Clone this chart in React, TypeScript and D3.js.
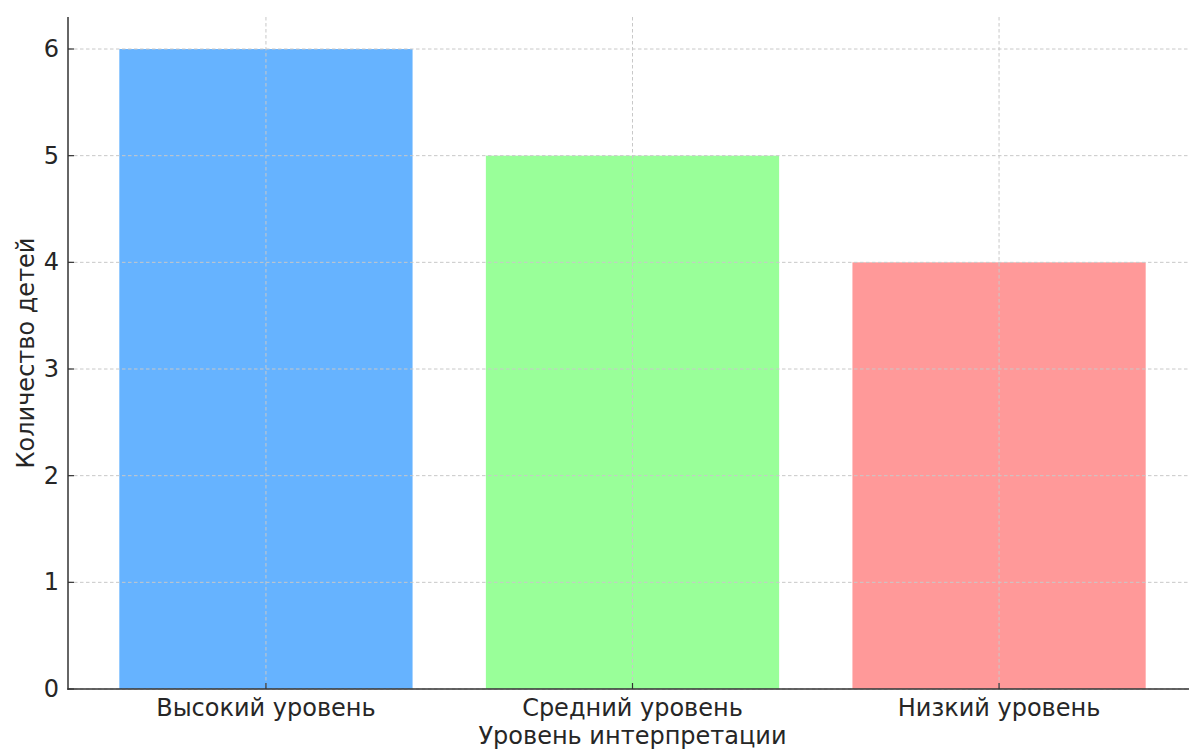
import React from "react";
import * as d3 from "d3";

const categories: string[] = ["Высокий уровень", "Средний уровень", "Низкий уровень"];
const counts: number[] = [6, 5, 4];
const barColors: string[] = ["#66b3ff", "#99ff99", "#ff9999"];
const yTicks: number[] = [0, 1, 2, 3, 4, 5, 6];
const xTitle = "Уровень интерпретации";
const yTitle = "Количество детей";

const W = 1189;
const H = 751;
const FONT = "'DejaVu Sans', sans-serif";
const FS = 24;

export default function App() {
  const idx = categories.map((_, i) => i);
  const x = d3.scaleLinear().domain([-0.54, 2.54]).range([68, 1197]);
  const y = d3.scaleLinear().domain([0, 6.3]).range([689, 17]);
  const barW = x(0.8) - x(0);
  const left = x(-0.54);
  const bottom = y(0);
  const top = y(6.3);

  return (
    <svg
      width={W}
      height={H}
      style={{ position: "absolute", left: 0, top: 0, background: "#fff" }}
      fontFamily={FONT}
    >
      {/* bars */}
      {idx.map((i) => (
        <rect
          key={"b" + i}
          x={x(i) - barW / 2}
          y={y(counts[i])}
          width={barW}
          height={bottom - y(counts[i])}
          fill={barColors[i]}
        />
      ))}

      {/* grid (drawn above bars) */}
      {yTicks.map((t) => (
        <line
          key={"gy" + t}
          x1={left}
          x2={W}
          y1={y(t)}
          y2={y(t)}
          stroke="#c8c8c8"
          strokeWidth={1}
          strokeDasharray="3.5,2.5"
        />
      ))}
      {idx.map((i) => (
        <line
          key={"gx" + i}
          x1={x(i)}
          x2={x(i)}
          y1={top}
          y2={bottom}
          stroke="#c8c8c8"
          strokeWidth={1}
          strokeDasharray="3.5,2.5"
        />
      ))}

      {/* spines */}
      <line x1={left} x2={left} y1={top} y2={bottom + 0.75} stroke="#333" strokeWidth={1.5} />
      <line x1={left - 0.75} x2={W} y1={bottom} y2={bottom} stroke="#333" strokeWidth={1.5} />

      {/* y ticks */}
      {yTicks.map((t) => (
        <g key={"ty" + t}>
          <line x1={left} x2={left + 6} y1={y(t)} y2={y(t)} stroke="#333" strokeWidth={1.2} />
          <text
            x={left - 9}
            y={y(t)}
            textAnchor="end"
            dominantBaseline="central"
            fontSize={FS}
            fill="#262626"
          >
            {t}
          </text>
        </g>
      ))}

      {/* x ticks */}
      {idx.map((i) => (
        <g key={"tx" + i}>
          <line x1={x(i)} x2={x(i)} y1={bottom} y2={bottom - 6} stroke="#333" strokeWidth={1.2} />
          <text
            x={x(i)}
            y={bottom + 27}
            textAnchor="middle"
            fontSize={FS}
            fill="#262626"
          >
            {categories[i]}
          </text>
        </g>
      ))}

      {/* axis titles */}
      <text x={x(1)} y={744} textAnchor="middle" fontSize={FS} fill="#262626">
        {xTitle}
      </text>
      <text
        transform={`translate(34, ${(top + bottom) / 2}) rotate(-90)`}
        textAnchor="middle"
        fontSize={FS}
        fill="#262626"
      >
        {yTitle}
      </text>
    </svg>
  );
}
